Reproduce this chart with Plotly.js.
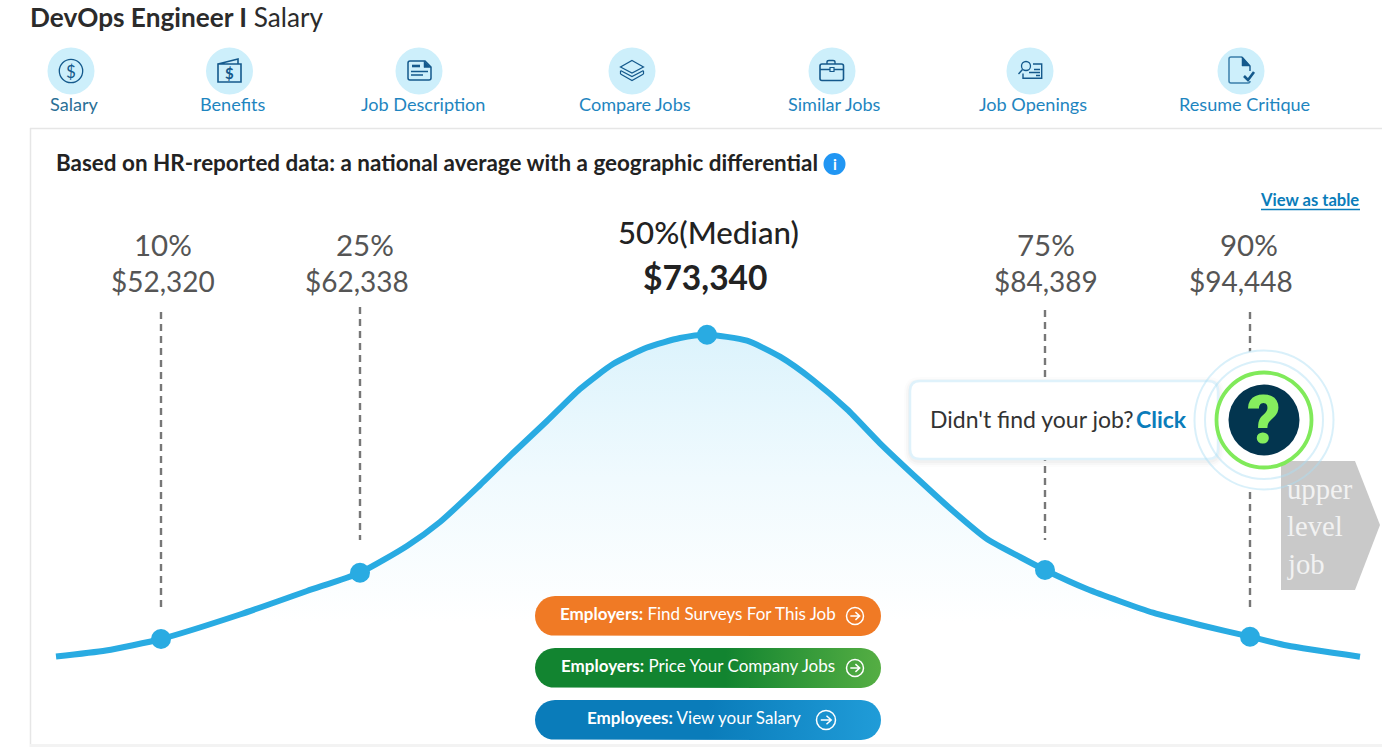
<!DOCTYPE html>
<html><head><meta charset="utf-8">
<script src="https://cdn.plot.ly/plotly-3.0.1.min.js"></script>
<style>html,body{margin:0;padding:0;background:#fff;overflow:hidden}#c{width:1382px;height:747px}</style>
</head><body><div id="c"></div>
<script>
// ---- data ----
const curveX = [56,106,161,240,307,360,407,440,480,513,547,580,613,647,680,707,747,780,813,847,880,920,953,987,1020,1045,1087,1153,1200,1250,1287,1360];
const curveHeight = [90.5,96.5,108,132.5,156,174.3,201,225,262,294,326,358,383,399.5,409,412.3,406.3,390.3,367,337.7,303.7,266,236,208,190,177,158,134.3,122,110.3,101.5,90.3];
const pctLabels = ['10%','25%','50%(Median)','75%','90%'];
const pctSalaries = ['$52,320','$62,338','$73,340','$84,389','$94,448'];
const pctX = [161,360,707,1045,1250];
const pctHeight = [108,174.3,412.3,177,110.3];
const dashTop = [435,440,null,437,435];
const dashBottom = [140,207,null,207,140];
const navLabels = ['Salary','Benefits','Job Description','Compare Jobs','Similar Jobs','Job Openings','Resume Critique'];
const navX = [74.5,232.5,423,634.5,834.5,1032.5,1244];
const iconX = [71,229.5,419,632,832,1030,1241];

const FONT = 'Lato, "Noto Sans", sans-serif';
const CURVE = '#29abe2', ICON = '#14598c', LINK = '#1e85c0', BRAND = '#0a7cba';

// ---- layout helpers (pixel space on the overlaying y2 axis) ----
const shapes = [], notes = [];
function S(o){ shapes.push(Object.assign({xref:'x',yref:'y2',layer:'above',line:{width:0}},o)); }
function circle(cx,cy,r,fill,lc,lw){ S({type:'circle',x0:cx-r,x1:cx+r,y0:cy-r,y1:cy+r,fillcolor:fill||'rgba(0,0,0,0)',line:{color:lc||'rgba(0,0,0,0)',width:lw||0}}); }
function path(d,lc,lw,fill){ S({type:'path',path:d,fillcolor:fill||'rgba(0,0,0,0)',line:{color:lc||'rgba(0,0,0,0)',width:lw||0}}); }
function rrect(x0,y0,x1,y1,r){ return `M${x0+r} ${y0}L${x1-r} ${y0}Q${x1} ${y0} ${x1} ${y0+r}L${x1} ${y1-r}Q${x1} ${y1} ${x1-r} ${y1}L${x0+r} ${y1}Q${x0} ${y1} ${x0} ${y1-r}L${x0} ${y0+r}Q${x0} ${y0} ${x0+r} ${y0}Z`; }
function T(x,y,text,size,color,anchor,extra){ notes.push(Object.assign({xref:'x',yref:'y2',x:x,y:y,text:text,showarrow:false,xanchor:anchor||'center',yanchor:'middle',borderpad:0,font:{family:FONT,size:size,color:color}},extra||{})); }
function pillTrace(x0,y0,x1,y1,stops,r){
  const xs=[],ys=[];
  for(let i=0;i<=16;i++){const a=-Math.PI/2+Math.PI*i/16;xs.push(x1-r+r*Math.cos(a));ys.push(y0+r+r*Math.sin(a));}
  for(let i=0;i<=16;i++){const a=Math.PI/2+Math.PI*i/16;xs.push(x0+r+r*Math.cos(a));ys.push(y0+r+r*Math.sin(a));}
  xs.push(xs[0]);ys.push(ys[0]);
  return {x:xs,y:ys,yaxis:'y2',mode:'lines',line:{width:0,color:stops[0][1]},fill:'toself',hoverinfo:'skip',showlegend:false,
    fillgradient:{type:'horizontal',colorscale:stops}};
}
function goArrow(cx,cy,r){
  circle(cx,cy,r,null,'#ffffff',1.5);
  path(`M${cx-r*0.55} ${cy}L${cx+r*0.5} ${cy}M${cx+r*0.05} ${cy-r*0.45}L${cx+r*0.55} ${cy}L${cx+r*0.05} ${cy+r*0.45}`,'#ffffff',1.5);
}

// ---- page chrome ----
S({type:'line',x0:30,x1:1382,y0:128.5,y1:128.5,line:{color:'#e6e6e6',width:1.5}});
S({type:'line',x0:30.5,x1:30.5,y0:128,y1:747,line:{color:'#e6e6e6',width:1.5}});
S({type:'rect',x0:30,x1:1382,y0:744,y1:747,fillcolor:'#f3f3f3'});
T(29,17,'<b>DevOps Engineer I</b> Salary',26.2,'#2b2b2b','left');
navLabels.forEach((l,i)=>T(navX[i],104,l,18.1,i===0?'#2a6f96':LINK));
iconX.forEach(x=>circle(x,71,23.5,'#cdeffb'));

// nav icons
circle(iconX[0],71,11.7,null,ICON,1.3);
T(iconX[0],71,'$',17,ICON);
let c=iconX[1];
path(`M${c-11.5} 64L${c+11.5} 64L${c+11.5} 82L${c-11.5} 82ZM${c-11.5} 64L${c+8.5} 59L${c+8.5} 64`,ICON,1.6);
T(c,73,'$',15,ICON,'center',{font:{family:FONT,size:15,color:ICON,weight:700}});
c=iconX[2];
path(`M${c-9} 61L${c+6} 61L${c+12} 67L${c+12} 78Q${c+12} 80 ${c+10} 80L${c-9} 80Q${c-11} 80 ${c-11} 78L${c-11} 63Q${c-11} 61 ${c-9} 61Z`,ICON,1.5);
path(`M${c+5} 61L${c+12} 67.5L${c+5} 67.5Z`,ICON,0.5,ICON);
path(`M${c-7} 66L${c+1} 66`,ICON,2.6);
path(`M${c-8} 71.5L${c+9} 71.5M${c-8} 75L${c+4} 75`,ICON,1.3);
c=iconX[3];
path(`M${c} 60.5L${c+11.5} 67L${c} 73L${c-11.5} 67Z`,ICON,1.2);
path(`M${c-11.5} 70.5L${c} 76.5L${c+11.5} 70.5M${c-11.5} 74L${c} 80.5L${c+11.5} 74M${c-11.5} 71L${c-11.5} 74M${c+11.5} 71L${c+11.5} 74`,ICON,1.2);
c=iconX[4];
S({type:'path',path:rrect(c-12,64,c+11.5,80.5,2),fillcolor:'rgba(0,0,0,0)',line:{color:ICON,width:1.6}});
path(`M${c-5} 64L${c-5} 62Q${c-5} 60.5 ${c-3} 60.5L${c+1} 60.5Q${c+3} 60.5 ${c+3} 62L${c+3} 64M${c-12} 69.5L${c-2} 69.5M${c+2} 69.5L${c+11.5} 69.5`,ICON,1.4);
S({type:'rect',x0:c-2,x1:c+2,y0:67.5,y1:71.5,fillcolor:'rgba(0,0,0,0)',line:{color:ICON,width:1.2}});
c=iconX[5];
circle(c-4,66,4.5,null,ICON,1.3);
path(`M${c-7.5} 69.5L${c-11.5} 74`,ICON,1.4);
path(`M${c+3} 64L${c+11.7} 64L${c+11.7} 78.3L${c-7} 78.3L${c-7} 73.5`,ICON,1.4);
path(`M${c+4} 69.5L${c+10} 69.5M${c-1} 72.5L${c+10} 72.5M${c+6} 75.5L${c+10} 75.5`,ICON,1.3);
c=iconX[6];
path(`M${c+1} 57L${c-10} 57Q${c-12} 57 ${c-12} 59L${c-12} 81Q${c-12} 83 ${c-10} 83L${c+7} 83Q${c+9} 83 ${c+9} 81`,'#3a7fab',1.5);
path(`M${c+1} 57L${c+9} 66L${c+9} 71`,ICON,1.4);
path(`M${c+1} 57L${c+9} 66L${c+1} 66Z`,ICON,0.5,ICON);
path(`M${c+3} 76L${c+7} 80L${c+13} 72`,ICON,2.6);

// heading
T(55,162,'<b>Based on HR-reported data: a national average with a geographic differential</b>',22.45,'#222222','left');
circle(834.5,164,11,'#2196f3');
T(834.5,164,'<b>i</b>',15,'#ffffff');
T(1360,200,'<b>View as table</b>',16.6,BRAND,'right');
S({type:'line',x0:1261,x1:1360,y0:209.5,y1:209.5,line:{color:BRAND,width:1.3}});

// percentile labels
const pctCx = [163,365,708,1046,1248.5];
const salaryCx = [162.5,356.5,705,1046,1241];
pctLabels.forEach((l,i)=>{
  if(i===2){
    T(pctCx[i],232,l,31.2,'#222222','center',{font:{family:FONT,size:31.2,color:'#222222',weight:500}});
    T(salaryCx[i],277,'<b>'+pctSalaries[i]+'</b>',33.5,'#222222');
  } else {
    T(pctCx[i],244,l,29.5,'#555555');
    T(salaryCx[i],281,pctSalaries[i],28,'#555555');
  }
});

// white halo behind the help badge, then the upper-level arrow
circle(1264,420,70,'#ffffff');
path('M1281 461L1355 461L1380 525L1355 590L1281 590Z',null,0,'#c9c9c9');
const serif={family:'"Liberation Serif",serif',size:28.7,color:'#f2f2f2'};
T(1286,489,'upper',28.7,'#f2f2f2','left',{font:serif});
T(1286,526,'level',28.7,'#f2f2f2','left',{font:serif});
T(1286,564,'job',28.7,'#f2f2f2','left',{font:serif});

// callout
[[6,0.012],[4,0.018],[2,0.025]].forEach(([g,a])=>S({type:'path',path:rrect(910-g,381-g+2,1218+g,459+g+2,10+g),fillcolor:`rgba(0,0,0,${a})`}));
S({type:'path',path:rrect(910,381,1218,459,10),fillcolor:'#ffffff',line:{color:'#dff2fb',width:2.5}});
T(929,418.5,"Didn't find your job?",23,'#333333','left');
T(1188,418.5,'<b>Click</b>',23,BRAND,'right');
circle(1264,420,69.5,null,'rgba(170,222,245,0.45)',2);
circle(1264,420,59,null,'rgba(170,222,245,0.45)',2);
circle(1264,420,47.5,'#ffffff','#80ea5a',3.8);
circle(1264,420,35.5,'#03354f');
T(1264,420.5,'?',66,'#86ee5e','center',{font:{family:'Roboto, sans-serif',size:66,color:'#86ee5e',weight:900}});

// buttons
T(559,613.5,'<b>Employers:</b> Find Surveys For This Job',17,'#ffffff','left');
T(560,665.5,'<b>Employers:</b> Price Your Company Jobs',17,'#ffffff','left');
T(586,717.5,'<b>Employees:</b> View your Salary',17,'#ffffff','left');
goArrow(855,616,8.5);
goArrow(855,668,8.5);
goArrow(826,720,9.5);

// ---- traces ----
const dashX=[],dashY=[];
pctX.forEach((x,i)=>{ if(dashTop[i]!==null){dashX.push(x,x,null);dashY.push(dashTop[i],dashBottom[i],null);} });
const traces = [
  {x:dashX,y:dashY,mode:'lines',line:{color:'#777777',width:2.4,dash:'7px,5px'},hoverinfo:'skip',showlegend:false,connectgaps:false},
  {x:curveX,y:curveHeight,mode:'lines',line:{color:CURVE,width:6,shape:'spline',smoothing:0.6},fill:'tozeroy',
   fillgradient:{type:'vertical',start:125,stop:412,colorscale:[[0,'#ffffff'],[0.5,'#f0fafe'],[1,'#dcf3fc']]},hoverinfo:'skip',showlegend:false},
  {x:pctX,y:pctHeight,mode:'markers',marker:{color:CURVE,size:20},showlegend:false,
   text:pctSalaries,hoverinfo:'text'},
  pillTrace(535,596,881,636,[[0,'#f07a25'],[1,'#f07a25']],20),
  pillTrace(535,648,881,688,[[0,'#128430'],[0.55,'#128430'],[1,'#55ae43']],20),
  pillTrace(535,700,881,740,[[0,'#0a7cba'],[0.5,'#0a7cba'],[1,'#209cd8']],20)
];
const layout = {
  width:1382,height:747,margin:{l:0,r:0,t:0,b:0,pad:0},paper_bgcolor:'#ffffff',plot_bgcolor:'rgba(0,0,0,0)',showlegend:false,
  xaxis:{range:[0,1382],visible:false,fixedrange:true},
  yaxis:{range:[0,747],visible:false,fixedrange:true},
  yaxis2:{range:[747,0],visible:false,fixedrange:true,overlaying:'y',anchor:'x'},
  shapes:shapes,annotations:notes,hovermode:'closest'
};
Plotly.newPlot('c',traces,layout,{displayModeBar:false,responsive:false});
</script></body></html>
